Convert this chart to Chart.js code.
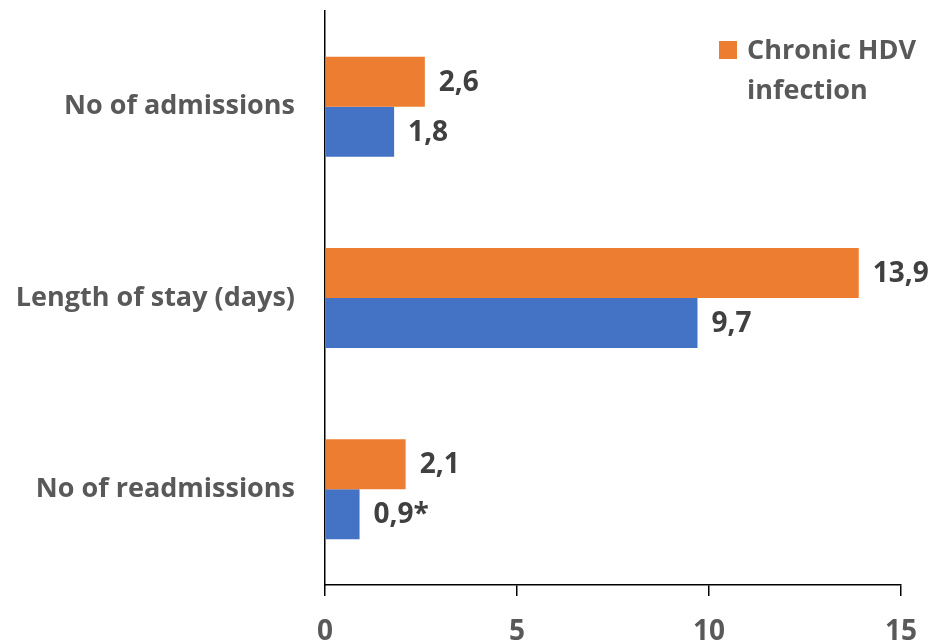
<!DOCTYPE html>
<html>
<head>
<meta charset="utf-8">
<script src="https://cdn.jsdelivr.net/npm/chart.js@4.4.1/dist/chart.umd.min.js"></script>
<style>
  html, body { margin: 0; padding: 0; background: #fff; }
  #wrap { width: 933px; height: 641px; }
</style>
</head>
<body>
<div id="wrap"><canvas id="c"></canvas></div>
<script>
const categories = ['No of admissions', 'Length of stay (days)', 'No of readmissions'];
const hdvValues = [2.6, 13.9, 2.1];
const otherValues = [1.8, 9.7, 0.9];
const otherNotes = ['', '', '*'];
const xTicks = [0, 5, 10, 15];

const FONT = '"Open Sans", Lato, sans-serif';
const GREY = '#595959';
const DARK = '#404040';

const fmt = v => v.toFixed(1).replace('.', ',');

// value labels at the end of each bar
const valueLabels = {
  id: 'valueLabels',
  afterDatasetsDraw(chart) {
    const { ctx } = chart;
    ctx.save();
    ctx.font = 'bold 28px ' + FONT;
    ctx.fillStyle = DARK;
    ctx.textBaseline = 'middle';
    ctx.textAlign = 'left';
    chart.data.datasets.forEach((ds, di) => {
      chart.getDatasetMeta(di).data.forEach((bar, i) => {
        const note = ds.notes ? ds.notes[i] : '';
        ctx.fillText(fmt(ds.data[i]) + note, bar.x + 14, bar.y + 1);
      });
    });
    ctx.restore();
  },
};

// single-entry legend, wrapped over two lines
const hdvLegend = {
  id: 'hdvLegend',
  afterDraw(chart) {
    const { ctx } = chart;
    ctx.save();
    ctx.fillStyle = '#ED7D31';
    ctx.fillRect(719, 41, 18, 18);
    ctx.font = 'bold 27px ' + FONT;
    ctx.fillStyle = GREY;
    ctx.textBaseline = 'alphabetic';
    ctx.fillText('Chronic HDV', 747, 59);
    ctx.fillText('infection', 747, 99);
    ctx.restore();
  },
};

new Chart(document.getElementById('c'), {
  type: 'bar',
  data: {
    labels: categories,
    datasets: [
      { label: 'Chronic HDV infection', data: hdvValues, backgroundColor: '#ED7D31' },
      { label: 'Other', data: otherValues, notes: otherNotes, backgroundColor: '#4472C4' },
    ],
  },
  options: {
    indexAxis: 'y',
    responsive: true,
    maintainAspectRatio: false,
    animation: false,
    categoryPercentage: 0.523,
    barPercentage: 1,
    layout: { padding: { top: 11, right: 32, left: 0, bottom: 0 } },
    plugins: { legend: { display: false }, tooltip: { enabled: false } },
    scales: {
      x: {
        min: 0, max: 15,
        afterBuildTicks: s => { s.ticks = xTicks.map(v => ({ value: v })); },
        afterFit: s => { s.height = 56; s.paddingLeft = 0; s.paddingRight = 0; },
        border: { display: true, color: '#000', width: 1.5 },
        grid: { drawOnChartArea: false, tickLength: 11, color: '#000', lineWidth: 1.5 },
        ticks: { color: GREY, font: { family: FONT, size: 28, weight: 'bold' }, padding: 19 },
      },
      y: {
        afterFit: s => { s.width = 325; s.paddingTop = 0; s.paddingBottom = 0; },
        border: { display: true, color: '#000', width: 1.5 },
        grid: { display: false },
        ticks: { color: GREY, font: { family: FONT, size: 27, weight: 'bold' }, padding: 22 },
      },
    },
  },
  plugins: [valueLabels, hdvLegend],
});
</script>
</body>
</html>
